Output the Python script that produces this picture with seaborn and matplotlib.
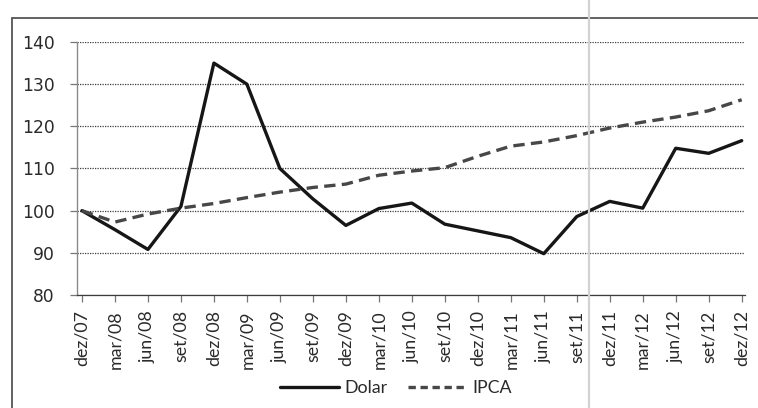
import matplotlib
matplotlib.use("Agg")
import matplotlib.pyplot as plt
import seaborn as sns
import pandas as pd
from matplotlib.lines import Line2D
from matplotlib.patches import Rectangle

# Quarterly indices (dez/07 = 100)
periodos = ["dez/07", "mar/08", "jun/08", "set/08", "dez/08", "mar/09", "jun/09",
            "set/09", "dez/09", "mar/10", "jun/10", "set/10", "dez/10", "mar/11",
            "jun/11", "set/11", "dez/11", "mar/12", "jun/12", "set/12", "dez/12"]
dolar = [100.0, 95.5, 90.8, 101.0, 135.0, 130.0, 110.0, 102.8, 96.5, 100.5, 101.8,
         96.8, 95.2, 93.6, 89.8, 98.6, 102.2, 100.6, 114.8, 113.6, 116.6]
ipca = [100.0, 97.3, 99.2, 100.6, 101.7, 103.1, 104.4, 105.5, 106.3, 108.4, 109.4,
        110.2, 112.9, 115.3, 116.3, 117.8, 119.6, 121.0, 122.2, 123.7, 126.3]
yticks = [80, 90, 100, 110, 120, 130, 140]

df = pd.DataFrame({"pos": range(len(periodos)), "Dolar": dolar, "IPCA": ipca})
df = df.melt(id_vars="pos", var_name="serie", value_name="indice")

sns.set_theme(style="white")
plt.rcParams["font.family"] = ["Lato", "DejaVu Sans"]

fig = plt.figure(figsize=(7.58, 4.08), dpi=100)
ax = fig.add_axes([77 / 758, 1 - 295 / 408, 668 / 758, 253 / 408])

cores = {"Dolar": "#161616", "IPCA": "#474747"}
tracos = {"Dolar": "", "IPCA": (3.4, 1.9)}
sns.lineplot(data=df, x="pos", y="indice", hue="serie", style="serie",
             palette=cores, dashes=tracos, linewidth=2.4, ax=ax, legend=False)

ax.set_xlim(-0.15, 20.1)
ax.set_ylim(80, 140)
ax.set_xlabel("")
ax.set_ylabel("")

ax.set_yticks(yticks)
ax.set_yticklabels([str(v) for v in yticks], fontfamily="DejaVu Sans",
                   fontsize=12.3, color="#2a2a2a")
ax.set_xticks(range(len(periodos)))
ax.set_xticklabels(periodos, rotation=90, fontsize=12.8, color="#2a2a2a")

ax.yaxis.grid(True, color="#3c3c3c", linestyle=(0, (1, 1)), linewidth=0.9)
ax.xaxis.grid(False)
ax.tick_params(axis="y", length=5, width=0.9, color="#777777", pad=11, left=True)
ax.tick_params(axis="x", length=5, width=0.9, color="#777777", pad=6,
               bottom=True, direction="out")

for lado in ("top", "right"):
    ax.spines[lado].set_visible(False)
ax.spines["left"].set_color("#8a8a8a")
ax.spines["left"].set_linewidth(1.0)
ax.spines["bottom"].set_color("#3c3c3c")
ax.spines["bottom"].set_linestyle((0, (1, 1)))
ax.spines["bottom"].set_linewidth(0.9)

alcas = [Line2D([], [], color=cores["Dolar"], linewidth=2.4),
         Line2D([], [], color=cores["IPCA"], linewidth=2.4, linestyle=(0, (2.2, 1.4)))]
fig.legend(alcas, ["Dolar", "IPCA"], loc="center", bbox_to_anchor=(396 / 758, 1 - 388 / 408),
           ncol=2, frameon=False, fontsize=12.8, handlelength=3.3,
           handletextpad=0.3, columnspacing=1.2, labelcolor="#2a2a2a")

# outer chart frame
fig.add_artist(Rectangle((12 / 758, -0.05), 1.2, 1 - 18 / 408 + 0.05,
                         transform=fig.transFigure, fill=False,
                         edgecolor="#555555", linewidth=1.3))
# fold line across the page
fig.add_artist(Line2D([589 / 758, 589 / 758], [0, 1], transform=fig.transFigure,
                      color="#d2d2d2", linewidth=1.6))

fig.savefig("out.png", dpi=100)
